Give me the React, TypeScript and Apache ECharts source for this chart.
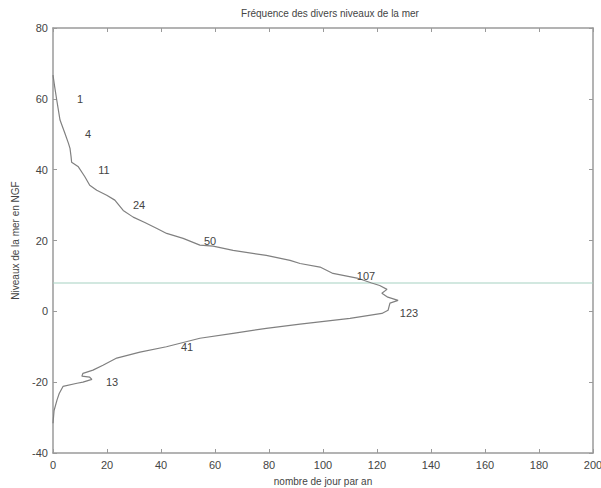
import React, { useEffect, useRef } from "react";
import * as echarts from "echarts";

const curveDays = [
  0, 0.6, 1.4, 2.6, 4.4, 5.7, 6.3, 6.7, 6.9, 9.4, 11.8, 13.6, 16.2, 19.9, 22.9, 26, 29.7, 34, 38.5, 42.1,
  48.2, 54.4, 59.3, 66.7, 79, 87.8, 91.5, 98.9, 103.7, 112.6, 118, 121, 123.7, 121.8, 124, 127.8, 124.8,
  124.1, 121.8, 110, 91.5, 79, 66.7, 54.4, 42, 32.2, 23.6, 18.5, 14.8, 11.1, 10.7, 13.6, 14.4, 11.1, 8.9,
  3.7, 2.3, 1.5, 0.4, 0,
];
const curveLevels = [
  66.7, 63.5, 59.6, 54, 50.3, 47.5, 46, 43.6, 42.1, 40.8, 38, 35.6, 34.2, 32.8, 31.4, 28.5, 26.6, 25.1,
  23.4, 22, 20.6, 18.7, 18.4, 17.2, 15.8, 14.4, 13.5, 12.5, 10.7, 9.4, 8, 7.3, 6.2, 5.1, 4, 3.1, 2.3, 0.3,
  -0.6, -2, -3.6, -4.8, -6.2, -7.6, -10, -11.5, -13.2, -15.2, -16.6, -17.5, -18.3, -18.6, -19.2, -20,
  -20.3, -21.2, -23.2, -25, -28, -31.6,
];
const refLevel = 8;
const labelDays = [10, 13, 19, 32, 58, 116, 132, 49.5, 22];
const labelLevels = [60, 50, 40, 30, 20, 10, -0.5, -10, -20];
const labelValues = [1, 4, 11, 24, 50, 107, 123, 41, 13];

const title = "Fréquence des divers niveaux de la mer";
const xTitle = "nombre de jour par an";
const yTitle = "Niveaux de la mer en NGF";

export default function App() {
  const ref = useRef<HTMLDivElement>(null);
  useEffect(() => {
    if (!ref.current) return;
    const chart = echarts.init(ref.current, null, { renderer: "svg" });
    const font = "Liberation Sans, Arial, sans-serif";
    const axisColor = "#9a9a9a";
    const textColor = "#444";
    const baseAxis = {
      axisLine: { show: true, onZero: false, lineStyle: { color: axisColor, width: 1.5 } },
      axisTick: { show: true, inside: true, length: 4, lineStyle: { color: axisColor } },
      splitLine: { show: false },
    };
    chart.setOption({
      animation: false,
      backgroundColor: "#fff",
      title: {
        text: title,
        left: 325,
        top: 3,
        textAlign: "center",
        textStyle: { fontFamily: font, fontSize: 10, fontWeight: "normal", color: textColor },
      },
      grid: { left: 53, right: 8, top: 28, bottom: 35, outerBoundsMode: "none", containLabel: false },
      xAxis: [
        {
          ...baseAxis,
          type: "value",
          min: 0,
          max: 200,
          interval: 20,
          position: "bottom",
          name: xTitle,
          nameLocation: "middle",
          nameGap: 23,
          nameTextStyle: { fontFamily: font, fontSize: 10, color: textColor },
          axisLabel: { fontFamily: font, fontSize: 11, color: textColor, margin: 6 },
        },
        {
          ...baseAxis,
          type: "value",
          min: 0,
          max: 200,
          interval: 20,
          position: "top",
          axisLabel: { show: false },
        },
      ],
      yAxis: [
        {
          ...baseAxis,
          type: "value",
          min: -40,
          max: 80,
          interval: 20,
          position: "left",
          name: yTitle,
          nameLocation: "middle",
          nameGap: 33,
          nameTextStyle: { fontFamily: font, fontSize: 10, color: textColor },
          axisLabel: { fontFamily: font, fontSize: 11, color: textColor, margin: 5 },
        },
        {
          ...baseAxis,
          type: "value",
          min: -40,
          max: 80,
          interval: 20,
          position: "right",
          axisLabel: { show: false },
        },
      ],
      series: [
        {
          type: "line",
          data: [
            [0, refLevel],
            [200, refLevel],
          ],
          symbol: "none",
          lineStyle: { color: "#a6d2c2", width: 1.2 },
          z: 1,
        },
        {
          type: "line",
          data: curveDays.map((d, i) => [d, curveLevels[i]]),
          symbol: "none",
          lineStyle: { color: "#808080", width: 1.2 },
          z: 2,
        },
        {
          type: "custom",
          data: labelDays.map((d, i) => [d, labelLevels[i], labelValues[i]]),
          encode: { x: 0, y: 1 },
          renderItem: (_params: any, api: any) => {
            const p = api.coord([api.value(0), api.value(1)]);
            return {
              type: "text",
              x: Math.round(p[0]),
              y: Math.round(p[1]),
              style: {
                text: String(api.value(2)),
                fill: "#444444",
                font: "11px Liberation Sans, Arial, sans-serif",
                align: "center",
                verticalAlign: "middle",
              },
            };
          },
          z: 3,
        },
      ],
    });
    return () => chart.dispose();
  }, []);
  return (
    <div
      ref={ref}
      style={{ position: "fixed", left: 0, top: 0, width: 601, height: 488, background: "#fff" }}
    />
  );
}
